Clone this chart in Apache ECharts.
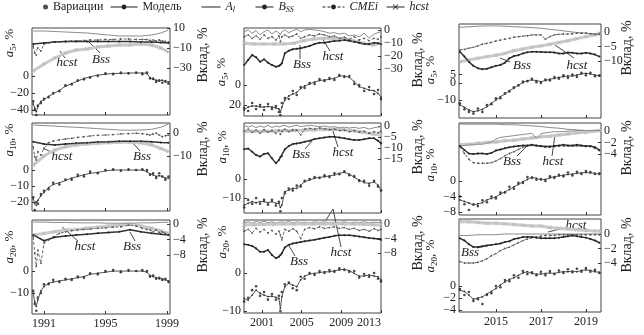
<!DOCTYPE html>
<html><head><meta charset="utf-8">
<script src="https://cdn.jsdelivr.net/npm/echarts@6/dist/echarts.min.js"></script>
<style>html,body{margin:0;padding:0;background:#fff}#c{width:644px;height:335px}</style>
</head><body><div id="c"></div>
<script>
// ---------- time samples ----------
const t1 = [1990.3,1990.4,1990.5,1990.6,1990.8,1991.0,1991.3,1991.6,1992.0,1992.4,1992.8,1993.2,1993.6,1994.0,1994.5,1995.0,1995.5,1996.0,1996.5,1997.0,1997.4,1997.7,1997.9,1998.1,1998.3,1998.5,1998.7,1998.9,1999.1];
const c1 = [1990.3,1991.0,1991.7,1992.4,1993.1,1993.8,1994.5,1995.2,1995.9,1996.6,1997.3,1998.0,1998.6,1999.1];
const t2 = [1999.2,1999.6,2000.0,2000.4,2000.8,2001.2,2001.6,2002.0,2002.4,2002.7,2002.85,2003.0,2003.3,2003.7,2004.1,2004.5,2004.9,2005.3,2005.8,2006.3,2006.8,2007.3,2007.8,2008.3,2008.8,2009.3,2009.8,2010.3,2010.8,2011.3,2011.8,2012.3,2012.7,2013.0];
const c2 = [1999.2,2000.2,2001.2,2002.2,2003.2,2004.2,2005.2,2006.2,2007.2,2008.2,2009.2,2010.2,2011.2,2012.2,2013.0];
const t3 = [2013.4,2013.6,2013.8,2014.0,2014.2,2014.4,2014.6,2014.8,2015.0,2015.2,2015.4,2015.6,2015.8,2016.0,2016.2,2016.4,2016.6,2016.8,2017.0,2017.2,2017.4,2017.6,2017.8,2018.0,2018.2,2018.4,2018.6,2018.8,2019.0,2019.2,2019.4,2019.6];
const c3 = [2013.4,2013.8,2014.2,2014.6,2015.0,2015.4,2015.8,2016.2,2016.6,2017.0,2017.4,2017.8,2018.2,2018.6,2019.0,2019.4,2019.65];

// ---------- tick labels ----------
const years1 = [1991,1995,1999];
const years2 = [2001,2005,2009,2013];
const years3 = [2015,2017,2019];
const ticksL11 = [0,-20,-40], ticksR11 = [10,-10,-30];
const ticksL12 = [0,-10,-20], ticksR12 = [0,-10];
const ticksL13 = [0,-10],     ticksR13 = [0,-4,-8];
const ticksL21 = [0,-20],     ticksR21 = [0,-10,-20,-30];
const ticksL22 = [0,-10],     ticksR22 = [0,-5,-10,-15];
const ticksL23 = [0,-10],     ticksR23 = [0,-4,-8];
const ticksL31 = [5,0,-10],   ticksR31 = [0,-5,-10];
const ticksL32 = [0,-4,-8],   ticksR32 = [0,-2,-4];
const ticksL33 = [0,-2,-4],   ticksR33 = [0,-2,-4];

// ---------- panel 1,1 (a5, 1990-1999) ----------
const p11_var   = [-30,-40,-46,-35,-32,-27,-25,-20,-18,-11,-10,-5,-4,-2,0,3,2,4,3,4,2,4,-3,-3,-7,-5,-8,-6,-9];
const p11_model = [-33,-38,-42,-36,-30,-28,-24,-21,-17,-12,-9,-6,-3,-1,1,2,3,3,3.5,3.5,3.5,3,-2,-4,-5,-6,-5,-7,-7];
const p11_Al    = [7,7,6.5,6,5.5,5,4,3,2,2,2,3,5,8];
const p11_Bss   = [-6,-5,-4,-3.5,-3.5,-3.5,-3.5,-3.5,-3.5,-3.5,-4,-4,-4.5,-5];
const p11_CMEi  = [-8,-15,-17,-10,-13,-6,-5,-4,-4,-3.5,-3,-3,-2.5,-2,-2,-1.5,-1.5,-1,-1,-1.5,-1.5,-1.5,-2.5,-2,-3,-2,-3,-3.5,-4];
const p11_hcst  = [-33,-26,-20,-15,-12,-11,-9,-8,-7,-7,-6,-7,-10,-14];
// ---------- panel 1,2 (a10) ----------
const p12_var   = [-17,-25,-20,-21,-15,-13,-12,-8,-9,-6,-6,-3,-4,-1,-2,0,0.5,-0.5,0.5,0,0.5,0,-3,-2,-5,-2,-4,-6,-4];
const p12_model = [-18,-21,-22,-19,-16,-14,-11,-9,-8,-6.5,-5,-4,-3,-2,-1.5,-0.5,0,0,0,0,0,-1,-2.5,-3,-4,-3.5,-4,-5,-5];
const p12_Al    = [3.5,3.2,3.0,2.7,2.5,2.2,1.9,1.6,1.3,1.2,1.3,1.6,2.5,3.9];
const p12_Bss   = [-3.8,-4.8,-5.2,-4.8,-4.5,-4.2,-3.9,-3.8,-3.6,-3.6,-3.6,-3.8,-4.1,-4.2];
const p12_CMEi  = [-6,-10.3,-11.7,-8.1,-9.6,-6.7,-4.2,-3.5,-3,-2.6,-2.3,-1.9,-1.6,-1.3,-1,-0.9,-0.7,-0.4,-0.3,-0.1,-0.3,-0.6,-0.9,-0.4,-0.1,-0.9,-1.6,-1.2,-0.9];
const p12_hcst  = [-13.9,-10,-7.4,-6,-5.2,-4.8,-4.5,-4.2,-4,-4,-4.2,-5.2,-6.7,-8.1];
// ---------- panel 1,3 (a20) ----------
const p13_var   = [-9,-15,-18,-12,-10,-6,-6,-4,-5,-3.5,-4,-2.5,-3,-1,-1.5,0,0.5,-0.5,0.5,0,0.5,0,-2.5,-2,-3.5,-3,-4,-3.5,-5];
const p13_model = [-10,-14,-16,-13,-9,-7,-5.5,-5,-4.5,-4,-3.5,-3,-2.5,-1.5,-1,-0.5,0,0,0,0,0,-0.5,-2,-2.5,-3,-3.5,-3.5,-4,-4.5];
const p13_Al    = [0.5,0.5,0.4,0.4,0.3,0.3,0.3,0.2,0.2,0.2,0.3,0.3,0.4,0.5];
const p13_Bss   = [-2.8,-4.3,-3.4,-3.1,-2.8,-2.6,-2.4,-2.2,-2,-1.5,-2,-2.4,-2.6,-2.8];
const p13_CMEi  = [-3.3,-7.5,-10.9,-6.7,-10.1,-4.9,-4.1,-3.3,-2.4,-2,-1.7,-1.5,-1.4,-1.3,-1.1,-1,-0.8,-0.7,-0.3,-0.5,-1.1,-1.4,-1.5,-2,-1.5,-2.2,-2,-2.4,-2.8];
const p13_hcst  = [-2.8,-2.4,-2,-1.5,-1.4,-1.1,-0.8,-0.5,-0.2,0,-0.5,-1.1,-1.8,-2.4];
// ---------- panel 2,1 (a5, 1999-2013) ----------
const p21_var   = [-23,-26,-18,-24,-20,-25,-19,-24,-21,-27,-30,-18,-13,-14,-6,-10,-2,-3,2,1,6,4,7,5,10,8,9,1,0,-6,-2,-9,-5,-14];
const p21_model = [-25,-22,-21,-21,-22,-22,-21.5,-22,-23,-24,-27,-22,-15,-11,-9,-7.5,-3.5,-1,1,3,4.5,5,5.7,6.7,9,9,7.7,3.3,-1.7,-3.3,-5,-5.7,-8.3,-12];
const p21_Al    = [-1.3,0,-2.5,-0.5,-3.8,-1.3,0,-3.1,-0.8,-2.1,-3.8,-1.3,0,-2.1,-0.5,0.5,-1.3,0,0.5,0,-0.5,-1.3,-2.5,-2.1,-3.1,-2.5,-4.6,-3.8,-5.2,-2.5,-6.4,-3.1,-2.1,-1.3];
const p21_Bss   = [-26.9,-23.1,-19.2,-21,-24.4,-22.5,-25.1,-26.9,-28.2,-27.7,-26.9,-25.6,-17.9,-15.9,-14.8,-14.4,-14.1,-13.3,-12.3,-10.8,-9.8,-9.8,-9,-8.5,-8.2,-7.7,-8.2,-9,-9.8,-10.8,-10.8,-9.8,-10.2,-10.8];
const p21_CMEi  = [-5.2,-3.8,-6.4,-4.6,-7.2,-3.8,-6.4,-5.2,-7.7,-4.6,-9,-5.2,-3.8,-5.6,-4.6,-3.1,-6.4,-5.2,-3.8,-4.6,-3.1,-3.8,-5.2,-4.6,-6.4,-5.6,-7.2,-5.2,-7.7,-6.4,-8.2,-6.4,-7.2,-5.2];
const p21_hcst  = [-10.2,-10.8,-10.8,-10.8,-10.8,-10.2,-8.2,-6.9,-6.4,-6.4,-7.2,-8.2,-10.2,-11.5,-10.2];
// ---------- panel 2,2 (a10) ----------
const p22_var   = [-15,-11,-13,-10,-13,-11,-13.5,-11,-14,-12,-17,-10,-7.5,-5,-6,-3.5,-4,-1,0,1,0.5,2,1,3,2.5,4,2,1.5,-1,-1,-3.5,-1,-4,-6];
const p22_model = [-13.7,-12.8,-11.9,-12.5,-11.9,-11.9,-12.5,-11.9,-12.8,-12.8,-14.9,-13.7,-6.7,-5.8,-4.9,-4.9,-3.2,-1.4,-0.5,0.4,0.9,1.2,1.6,2.1,3,3.5,2.6,0.9,-0.5,-1.9,-2.3,-1.6,-3.2,-5.8];
const p22_Al    = [0.3,-0.5,0.2,-0.8,0,-0.6,0.3,-0.7,0,-0.4,-0.9,0,0.3,-0.5,0,0.3,-0.3,0,0.3,0,-0.3,0,-0.5,-0.3,-0.8,-0.5,-0.9,-0.6,-1.1,-0.6,-1.4,-0.8,-0.5,-0.3];
const p22_Bss   = [-10.6,-10.2,-11.7,-13.2,-13.9,-12.7,-12.4,-14.7,-16.9,-15.4,-14.2,-13.6,-10.6,-9.1,-8.2,-7.9,-7.6,-7.2,-6.7,-5.9,-5.6,-5.2,-4.9,-4.9,-5.2,-5.6,-6.0,-6.4,-6.4,-6.0,-5.6,-5.6,-6.7,-7.9];
const p22_CMEi  = [-2.4,-1.4,-2.8,-1.9,-3.3,-1.7,-2.8,-2.1,-3.3,-1.9,-3.8,-2.4,-1.4,-2.6,-1.7,-1.9,-4.0,-1.4,-1.1,-1.4,-0.9,-1.2,-1.7,-1.4,-2.1,-1.9,-2.6,-2.1,-2.8,-2.4,-3.3,-2.6,-3.0,-2.4];
const p22_hcst  = [-2.5,-2.4,-2.4,-2.3,-2.2,-2.1,-1.9,-1.8,-1.6,-1.5,-1.7,-2.2,-2.8,-3.6,-4.0];
// ---------- panel 2,3 (a20) ----------
const p23_var   = [-7.5,-6.5,-4.5,-3.5,-6,-5,-7,-5.5,-7,-6,-10,-5,-3,-2.5,-4,-4.5,-1,-1.5,0,-0.5,0.5,0,0.8,0.3,1.2,0.8,0.3,0.5,-1.2,-0.3,-1,0,-1.5,-2.2];
const p23_model = [-6.7,-7.1,-5.8,-4.5,-5.3,-5.8,-6.2,-6.1,-6.4,-6.7,-9.3,-6.2,-3.6,-2.7,-3.2,-3.6,-1.8,-0.8,-0.3,-0.1,0.1,0.3,0.3,0.6,0.8,1,0.6,-0.1,-0.8,-0.8,-0.5,-0.8,-1,-1.8];
const p23_Al    = [0.3,0.6,0.2,0.7,0.4,0.8,0.3,0.6,0.2,0.5,0.3,0.6,0.4,0.7,0.3,0.6,0.4,0.5,0.3,0.6,0.4,0.6,0.3,0.5,0.4,0.6,0.3,0.5,0.4,0.6,0.3,0.5,0.4,0.5];
const p23_Bss   = [-5.6,-5.8,-6.1,-6.8,-7.7,-7.7,-7.2,-8.6,-9.5,-9.1,-8.6,-8.1,-6.5,-5.8,-5.4,-5.2,-5,-4.8,-4.6,-4.4,-4.1,-3.8,-3.6,-3.3,-3.1,-3.1,-3.1,-3.3,-3.5,-3.7,-3.9,-4,-4.2,-4.4];
const p23_CMEi  = [-2,-1.5,-2.5,-1.2,-2.2,-1.5,-2.5,-1.8,-2.8,-2,-3,-4.4,-1.5,-2,-1.3,-2,-4,-1.5,-1,-1.3,-0.8,-1.2,-1,-0.8,-1.2,-1,-1.5,-1.2,-1.8,-1.5,-2,-1.3,-1.8,-1.5];
const p23_hcst  = [-0.2,-0.2,-0.1,-0.1,0,0,0,0,0,0,0,0,-0.1,-0.2,-0.3];
// ---------- panel 3,1 (a5, 2013-2019) ----------
const p31_var   = [-12,-15.5,-17,-18,-15,-17,-13,-12.5,-9,-9,-6,-5,-2.5,-1.5,0.8,1,2.5,0.5,0,2,1.5,3.5,2.5,4.5,3,5,3.5,6,4.5,6,4,4.5];
const p31_model = [-12.9,-14.3,-15.9,-16.9,-16.3,-15.5,-13.9,-11.9,-10,-8.1,-6.5,-4.5,-3.1,-1.2,0.2,1.4,1.8,1.4,0.8,1.4,2.2,2.7,3.3,3.7,4.1,4.1,4.7,5.3,5.7,5.3,4.7,4.1];
const p31_Al    = [1.6,1.8,2.0,2.1,2.1,2.0,1.8,1.7,1.5,1.3,0.9,0.6,0.2,-0.2,-0.4,-0.8,-1.0];
const p31_Bss   = [-6.8,-8.5,-10.3,-11.7,-12.5,-12.9,-12.7,-12.2,-11.7,-11.4,-10.6,-9.1,-8.3,-8.0,-7.4,-7.0,-6.8,-6.8,-6.9,-7.0,-7.0,-7.1,-7.4,-7.4,-7.1,-7.2,-7.4,-7.4,-7.2,-7.4,-7.8,-8.5];
const p31_CMEi  = [-6.2,-6.0,-5.6,-5.3,-4.8,-4.2,-3.9,-3.6,-3.1,-2.8,-2.5,-2.2,-1.8,-1.6,-1.4,-1.3,-1.0,-1.0,-1.0,-2.5,-1.6,-1.0,-0.8,-0.7,-0.7,-0.6,-0.4,-0.4,-0.4,-0.6,-0.7,-0.7];
const p31_hcst  = [-10.3,-9.7,-9.1,-8.5,-8.0,-7.4,-6.5,-5.9,-5.3,-4.8,-4.2,-3.6,-3.0,-2.3,-1.6,-1.0,-0.4];
// ---------- panel 3,2 (a10) ----------
const p32_var   = [-4,-6,-7.5,-6,-6.5,-5,-5.5,-4,-4.5,-3,-3,-1.5,-2,-0.5,-0.5,1,0.8,0.3,0.5,0,1.2,0.8,1.6,1.2,2.2,1.4,2.4,1.8,2.6,2.3,1.8,2];
const p32_model = [-4.9,-5.3,-5.7,-6.2,-5.9,-5.6,-4.9,-4.5,-4.1,-3.4,-2.8,-2.2,-1.5,-0.9,-0.2,0.4,1,0.7,0.3,0.4,0.8,1.1,1.3,1.5,1.7,1.8,2,2.1,2.2,2.1,2,1.7];
const p32_Al    = [1.2,1.2,1.2,1.2,1.2,1.1,1.1,1,0.9,0.8,0.6,0.5,0.3,0.2,0.1,0.1,0.1];
const p32_Al2   = [-2.6,-2.5,-2.4,-2.4,-2.3,-2.3,-2.1,-1.9,-1.4,-1.1,-1,-0.9,-0.8,-0.7,-0.6,-0.5,-0.4,-1.3,-0.5,-0.3,-0.2,-0.1,-0.1,-0.1,0,0,0.1,0.1,0.1,0.1,0.1,0.1];
const p32_Bss   = [-2.6,-3.3,-3.9,-4,-3.9,-3.9,-4,-3.8,-3.4,-3.2,-3,-2.8,-2.7,-2.6,-2.5,-2.5,-2.4,-2.5,-2.6,-2.7,-2.7,-2.6,-2.5,-2.4,-2.5,-2.5,-2.4,-2.5,-2.6,-2.6,-2.8,-3.3];
const p32_CMEi  = [-2.7,-3.9,-4.9,-5.5,-5.6,-5.6,-5.6,-5.5,-5.2,-4.8,-4.3,-3.9,-3.6,-3.2,-2.8,-2.6,-2.5,-2.6,-2.7,-2.8,-2.8,-2.7,-2.6,-2.6,-2.6,-2.6,-2.6,-2.6,-2.7,-2.7,-3,-3.4];
const p32_hcst  = [-2.4,-2.3,-2.1,-2,-1.9,-1.7,-1.6,-1.4,-1.2,-1,-0.9,-0.7,-0.5,-0.3,-0.2,0,0.1];
// ---------- panel 3,3 (a20) ----------
const p33_var   = [-0.5,-1.5,-1,-2.5,-2.2,-3,-1.5,-1.2,0,-0.2,1,0.8,1.8,1.4,2.5,2,2.3,1.8,2.4,1.8,2.5,2,2.6,2.2,2.8,2.3,2.9,2.4,3,2.4,2.7,2.2];
const p33_model = [-0.7,-0.9,-1.5,-2.2,-2,-1.8,-1.3,-0.9,-0.4,0.2,0.7,1.1,1.4,1.8,2.2,2.4,2.1,2,2,2.1,2.2,2.1,2.3,2.4,2.4,2.5,2.4,2.6,2.7,2.6,2.4,2.3];
const p33_Al    = [-0.2,-0.2,-0.1,-0.1,-0.1,0,0,0,0,0,0,0,0,0,0,0,0];
const p33_Bss   = [-0.6,-0.9,-1.4,-1.8,-1.8,-1.7,-1.6,-1.5,-1.4,-1.3,-1.1,-1,-0.7,-0.6,-0.4,-0.4,-0.4,-0.5,-0.6,-0.6,-0.6,-0.6,-0.5,-0.4,-0.3,-0.2,-0.3,-0.4,-0.5,-0.7,-0.9,-1.2];
const p33_CMEi  = [-3.8,-4,-4,-4,-3.9,-3.7,-3.4,-3,-2.7,-2.3,-2,-1.8,-1.5,-1.2,-0.9,-0.7,-0.5,-0.4,-0.3,-0.2,-0.2,-0.2,-0.1,-0.1,-0.1,-0.1,-0.1,-0.1,-0.1,-0.1,-0.1,-0.1];
const p33_hcst  = [1.7,1.7,1.6,1.5,1.5,1.4,1.3,1.2,1.1,1.1,0.9,0.8,0.7,0.6,0.5,0.4,0.4];

// ---------- layout & style (not data) ----------
const FONT = "'Liberation Serif','DejaVu Serif',serif";
const INK = '#222';
const XPATH = 'path://M0,1L1,0L5,4L9,0L10,1L6,5L10,9L9,10L5,6L1,10L0,9L4,5Z';
const fmt = v => (v < 0 ? '\u2212' : '') + Math.abs(v);
const LABEL_MARGIN = 3;

const boxes = [[32,28,138,87],[32,123,138,88],[32,220,138,94],
               [244,28,137,88],[244,123,137,90],[244,220,137,93],
               [459,24,142,94],[459,123,142,92],[459,219,142,93]];
const xRange = [[1990.22,1999.2],[1999.18,2013.0],[2013.36,2019.67]];
const yLeftRange  = [[-46,56.5],[-25.6,29.4],[-19.5,23.2],[-31,57],[-17.9,29.5],[-10.5,13.9],[-20.6,34.7],[-8.8,15],[-4.33,11.2]];
const yRightRange = [[-77,10],[-33.9,4.35],[-23.1,1.03],[-66,1.5],[-39.5,1.36],[-24.7,1.1],[-29.7,2.76],[-14.6,1.4],[-10.76,2.07]];
const yearTicks = [years1, years2, years3];

const look = {
  'A_l':  {type:'line', symbol:'none', lineStyle:{color:'#8c8c8c', width:1}},
  'B_SS': {type:'line', symbol:'circle', symbolSize:2, lineStyle:{color:'#333', width:1.5}, itemStyle:{color:'#222'}},
  'CMEi': {type:'line', symbol:'circle', symbolSize:1.8, lineStyle:{color:'#666', width:1, type:[3,2]}, itemStyle:{color:'#555'}},
  'hcst': {type:'line', symbol:XPATH, symbolSize:4, lineStyle:{color:'#c9c9c9', width:3}, itemStyle:{color:'#b5b5b5'}},
  'Модель': {type:'line', symbol:'circle', symbolSize:1.8, lineStyle:{color:'#555', width:1}, itemStyle:{color:'#333'}},
  'Вариации': {type:'scatter', symbol:'circle', symbolSize:2.6, itemStyle:{color:'#1a1a1a'}}
};

const panels = [
  {tf:t1, v:p11_var, m:p11_model, lT:ticksL11, rT:ticksR11, lines:[['hcst',c1,p11_hcst],['A_l',c1,p11_Al],['CMEi',t1,p11_CMEi],['B_SS',c1,p11_Bss]]},
  {tf:t1, v:p12_var, m:p12_model, lT:ticksL12, rT:ticksR12, lines:[['hcst',c1,p12_hcst],['A_l',c1,p12_Al],['CMEi',t1,p12_CMEi],['B_SS',c1,p12_Bss]]},
  {tf:t1, v:p13_var, m:p13_model, lT:ticksL13, rT:ticksR13, lines:[['hcst',c1,p13_hcst],['A_l',c1,p13_Al],['CMEi',t1,p13_CMEi],['B_SS',c1,p13_Bss]]},
  {tf:t2, v:p21_var, m:p21_model, lT:ticksL21, rT:ticksR21, lFmt: v => v === -20 ? '20' : fmt(v), lines:[['hcst',c2,p21_hcst],['A_l',t2,p21_Al],['CMEi',t2,p21_CMEi],['B_SS',t2,p21_Bss]]},
  {tf:t2, v:p22_var, m:p22_model, lT:ticksL22, rT:ticksR22, lines:[['hcst',c2,p22_hcst],['A_l',t2,p22_Al],['CMEi',t2,p22_CMEi],['B_SS',t2,p22_Bss]]},
  {tf:t2, v:p23_var, m:p23_model, lT:ticksL23, rT:ticksR23, lines:[['A_l',t2,p23_Al],['CMEi',t2,p23_CMEi],['B_SS',t2,p23_Bss],['hcst',c2,p23_hcst]]},
  {tf:t3, v:p31_var, m:p31_model, lT:ticksL31, rT:ticksR31, lines:[['hcst',c3,p31_hcst],['A_l',c3,p31_Al],['CMEi',t3,p31_CMEi],['B_SS',t3,p31_Bss]]},
  {tf:t3, v:p32_var, m:p32_model, lT:ticksL32, rT:ticksR32, lines:[['hcst',c3,p32_hcst],['A_l',c3,p32_Al],['A_l',t3,p32_Al2],['CMEi',t3,p32_CMEi],['B_SS',t3,p32_Bss]]},
  {tf:t3, v:p33_var, m:p33_model, lT:ticksL33, rT:ticksR33, lines:[['hcst',c3,p33_hcst],['A_l',c3,p33_Al],['CMEi',t3,p33_CMEi],['B_SS',t3,p33_Bss]]}
];

const pair = (t, v) => t.map((x, i) => [x, v[i]]);
const clone = o => JSON.parse(JSON.stringify(o));

const grid = [], xAxis = [], yAxis = [], series = [], yMeta = [];
const tickBase = {show:true, inside:true, length:3, lineStyle:{color:'#333', width:1}};
const lab = {fontFamily:FONT, fontSize:12, color:INK, hideOverlap:false};
function yAxisOf(g, pos, range, ticks, formatter) {
  yMeta.push({index: yAxis.length, g, pos, ticks, formatter});
  return {type:'value', gridIndex:g, position:pos, offset:0, min:range[0], max:range[1],
    axisLine:{show:false, onZero:false}, splitLine:{show:false},
    axisTick:Object.assign({}, tickBase, {customValues: ticks}),
    axisLabel:Object.assign({}, lab, {customValues: ticks, formatter, margin:LABEL_MARGIN})};
}
panels.forEach((p, g) => {
  const col = Math.floor(g / 3), row = g % 3, b = boxes[g];
  grid.push({left:b[0], top:b[1], width:b[2], height:b[3], show:true, borderColor:'#444', borderWidth:1,
             backgroundColor:'transparent', containLabel:false, outerBoundsMode:'none'});
  xAxis.push({type:'value', gridIndex:g, position:'bottom', min:xRange[col][0], max:xRange[col][1],
    axisLine:{show:false, onZero:false}, splitLine:{show:false},
    axisTick:Object.assign({customValues:yearTicks[col]}, tickBase),
    axisLabel:Object.assign({show: row === 2, customValues:yearTicks[col], formatter: v => String(v), margin:4,
      alignMaxLabel: col === 1 ? 'right' : null}, lab)});
  const yL = yAxis.length;
  yAxis.push(yAxisOf(g, 'left', yLeftRange[g], p.lT, p.lFmt || fmt));
  const yR = yAxis.length;
  yAxis.push(yAxisOf(g, 'right', yRightRange[g], p.rT, fmt));
  p.lines.forEach(([name, t, vals]) => {
    series.push(Object.assign(clone(look[name]), {name, xAxisIndex:g, yAxisIndex:yR, data:pair(t, vals), clip:true}));
  });
  series.push(Object.assign(clone(look['Модель']), {name:'Модель', xAxisIndex:g, yAxisIndex:yL, data:pair(p.tf, p.m), clip:true}));
  series.push(Object.assign(clone(look['Вариации']), {name:'Вариации', xAxisIndex:g, yAxisIndex:yL, data:pair(p.tf, p.v), clip:true}));
});

// ---------- legend (six single-item legends) ----------
const legendRich = {
  i:{fontFamily:FONT, fontSize:12, fontStyle:'italic', lineHeight:14, verticalAlign:'middle', color:INK},
  s:{fontFamily:FONT, fontSize:8, fontStyle:'italic', lineHeight:8, verticalAlign:'bottom', color:INK},
  n:{fontFamily:FONT, fontSize:12, lineHeight:14, color:INK}
};
const legendText = {'Вариации':'{n|Вариации}','Модель':'{n|Модель}','A_l':'{i|A}{s|l}','B_SS':'{i|B}{s|SS}','CMEi':'{i|CMEi}','hcst':'{i|hcst}'};
const legendSpec = [['Вариации',43,5,5,'circle'],['Модель',110,27,6],['A_l',201,19,6],['B_SS',255,18,6],['CMEi',322,22,6],['hcst',386,18,7]];
const legend = legendSpec.map(([name, left, w, h, icon]) => {
  const d = {name};
  if (icon) d.icon = icon;
  if (name === 'A_l') d.itemStyle = {opacity:0};
  return {data:[d], left, top:0, itemWidth:w, itemHeight:h, selectedMode:false, padding:[1,0,0,0],
    textStyle:{fontFamily:FONT, fontSize:12, color:INK, rich:legendRich},
    formatter: n => legendText[n],
    lineStyle:{color:'#222', width:1}, itemStyle:{color:'#222', borderWidth:0}};
});

// ---------- axis names and annotations ----------
const nameRich = {
  i:{fontFamily:FONT, fontSize:13, fontStyle:'italic', lineHeight:16, verticalAlign:'middle', fill:INK},
  s:{fontFamily:FONT, fontSize:9, lineHeight:9, verticalAlign:'bottom', fill:INK},
  n:{fontFamily:FONT, fontSize:13, lineHeight:16, verticalAlign:'middle', fill:INK}
};
const leftNames = [['5',10,43],['10',10,140],['20',10,247],['5',222,72],['10',223,147],['20',223,242],['5',431,70],['10',431,165],['20',431,256]];
const rightNames = [[203,55],[203,149],[203,245],[418,60],[418,147],[418,243],[627,48],[627,148],[627,245]];
const notes = [['hcst',67,63],['Bss',101,60],['hcst',62,157],['Bss',142,157],['hcst',85,247],['Bss',132,247],
               ['Bss',302,65],['hcst',333,57],['Bss',301,155],['hcst',343,153],['Bss',299,262],['hcst',341,253],
               ['Bss',522,66],['hcst',577,66],['Bss',512,162],['hcst',553,162],['Bss',470,253],['hcst',576,226]];
const leaders = [[60,51,65,58],[88,41,100,53],[53,153,43,148],[140,151,132,142],[62,227,78,241],[130,232,135,241],
                 [300,59,300,45],[330,51,322,38],[305,149,312,141],[338,147,332,128],[295,256,288,244],[341,247,333,209],[333,209,326,220],
                 [510,62,500,58],[574,58,555,45],[517,156,527,146],[552,156,555,135],[477,248,490,245],[564,228,548,232]];

const graphic = [];
leftNames.forEach(([k, x, y]) => graphic.push({type:'text', x, y, rotation:Math.PI/2, silent:true,
  style:{text:'{i|a}{s|' + k + '}{n|, %}', rich:nameRich, align:'center', verticalAlign:'middle', textAlign:'center', textVerticalAlign:'middle'}}));
rightNames.forEach(([x, y]) => graphic.push({type:'text', x, y, rotation:Math.PI/2, silent:true,
  style:{text:'Вклад, %', fontFamily:FONT, fontSize:14, fill:INK, align:'center', verticalAlign:'middle', textAlign:'center', textVerticalAlign:'middle'}}));
notes.forEach(([s, x, y]) => graphic.push({type:'text', x, y, silent:true,
  style:{text:s, fontFamily:FONT, fontSize:13, fontStyle:'italic', fill:INK, align:'center', verticalAlign:'middle', textAlign:'center', textVerticalAlign:'middle'}}));
leaders.forEach(([x1, y1, x2, y2]) => graphic.push({type:'line', silent:true, shape:{x1, y1, x2, y2}, style:{stroke:'#333', lineWidth:0.9}}));

const chart = echarts.init(document.getElementById('c'), null, {renderer:'canvas'});
chart.setOption({
  animation:false,
  backgroundColor:'#fff',
  textStyle:{fontFamily:FONT},
  legend, grid, xAxis, yAxis, series, graphic
});

// y tick labels: placed through each axis' own scale (convertToPixel), so that crowded labels are never auto-hidden
try {
  const tickText = [];
  let ok = true;
  yMeta.forEach(m => {
    const b = boxes[m.g];
    m.ticks.forEach(v => {
      const py = chart.convertToPixel({yAxisIndex: m.index}, v);
      if (typeof py !== 'number' || !isFinite(py)) ok = false;
      tickText.push({type:'text', silent:true, z:10,
        x: m.pos === 'left' ? b[0] - LABEL_MARGIN : b[0] + b[2] + LABEL_MARGIN, y: py,
        style:{text: m.formatter(v), fontFamily:FONT, fontSize:12, fill:INK,
               align: m.pos === 'left' ? 'right' : 'left', textAlign: m.pos === 'left' ? 'right' : 'left',
               verticalAlign:'middle', textVerticalAlign:'middle'}});
    });
  });
  if (ok) {
    chart.setOption({yAxis: yAxis.map(() => ({axisLabel:{show:false}})), graphic: graphic.concat(tickText)});
  }
} catch (e) { /* keep the axis' own labels */ }
</script></body></html>
